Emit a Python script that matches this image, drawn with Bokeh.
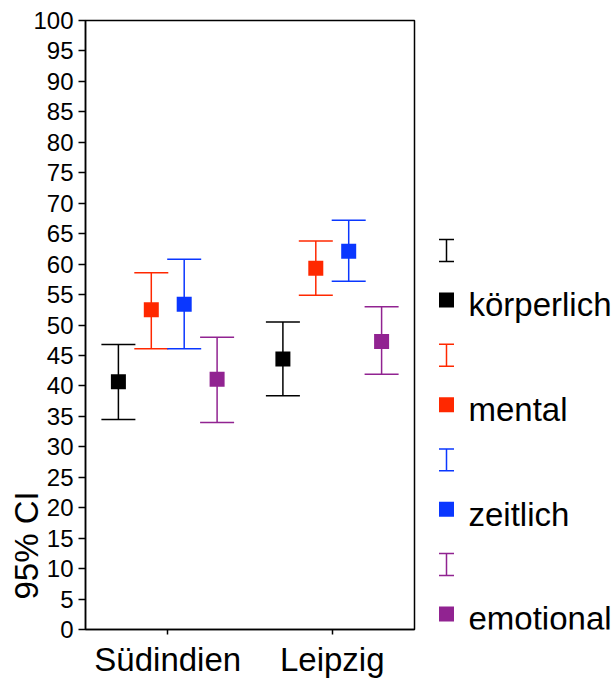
import math

from bokeh.core.properties import value
from bokeh.embed import file_html
from bokeh.layouts import row
from bokeh.models import (ColumnDataSource, FactorRange, FixedTicker, Range1d,
                          TeeHead, Whisker)
from bokeh.plotting import figure
from bokeh.resources import INLINE
from bokeh.transform import dodge

# ---- data -----------------------------------------------------------------
sites = ["Südindien", "Leipzig"]
groups = ["körperlich", "mental", "zeitlich", "emotional"]
colors = ["#000000", "#FF2800", "#0A37FF", "#912391"]

mean_koerperlich = [40.7, 44.4]
lower_koerperlich = [34.5, 38.4]
upper_koerperlich = [46.8, 50.5]

mean_mental = [52.5, 59.3]
lower_mental = [46.1, 54.9]
upper_mental = [58.6, 63.8]

mean_zeitlich = [53.4, 62.1]
lower_zeitlich = [46.1, 57.2]
upper_zeitlich = [60.8, 67.2]

mean_emotional = [41.1, 47.3]
lower_emotional = [34.0, 41.9]
upper_emotional = [48.0, 53.0]

y_ticks = [0, 5, 10, 15, 20, 25, 30, 35, 40, 45, 50,
           55, 60, 65, 70, 75, 80, 85, 90, 95, 100]
y_title = "95% CI"

series = [
    (mean_koerperlich, lower_koerperlich, upper_koerperlich),
    (mean_mental, lower_mental, upper_mental),
    (mean_zeitlich, lower_zeitlich, upper_zeitlich),
    (mean_emotional, lower_emotional, upper_emotional),
]

FONT = "Liberation Sans"
offsets = [-0.3, -0.1, 0.1, 0.3]

# Plots in a row share their top/bottom borders, so every panel below
# gets the same 20px / 50px frame insets as the main chart.
TOP, BOTTOM = 20, 50

# ---- vertical axis title (narrow strip on the far left) -------------------
# y is measured in page pixels from the top of the canvas
tf = figure(
    width=50, height=680,
    x_range=Range1d(0, 50), y_range=Range1d(680 - BOTTOM, TOP),
    min_border_left=0, min_border_right=0,
    min_border_top=TOP, min_border_bottom=BOTTOM,
    x_axis_type=None, y_axis_type=None,
    toolbar_location=None, tools="", output_backend="svg",
)
tf.outline_line_color = None
tf.background_fill_color = None
tf.border_fill_color = None
tf.grid.visible = False
tf.text(x=[26], y=[600], text=[y_title], angle=math.pi / 2,
        text_font=value(FONT), text_font_size="33px", text_color="black",
        text_align="left", text_baseline="alphabetic")

# ---- main chart -----------------------------------------------------------
p = figure(
    x_range=FactorRange(*sites, range_padding=0),
    y_range=Range1d(0, 100),
    width=388, height=680,
    min_border_left=55, min_border_right=4,
    min_border_top=TOP, min_border_bottom=BOTTOM,
    toolbar_location=None, tools="", output_backend="svg",
)
p.margin = (0, 0, 0, -20)          # tuck the plot under the title strip
p.xgrid.visible = False
p.ygrid.visible = False
p.outline_line_color = "black"
p.outline_line_width = 1.5
p.outline_line_alpha = 1.0
p.background_fill_color = "white"
p.border_fill_color = None

for (mean, lower, upper), color, off in zip(series, colors, offsets):
    src = ColumnDataSource(dict(site=sites, mean=mean, lower=lower, upper=upper))
    xpos = dodge("site", off, range=p.x_range)
    whisk = Whisker(
        source=src, base=xpos, lower="lower", upper="upper",
        line_color=color, line_width=1.5, level="underlay",
        upper_head=TeeHead(size=34, line_color=color, line_width=1.5),
        lower_head=TeeHead(size=34, line_color=color, line_width=1.5),
    )
    p.add_layout(whisk)
    p.scatter(x=xpos, y="mean", source=src, marker="square", size=15,
              fill_color=color, line_color=None)

# y axis
p.yaxis.ticker = FixedTicker(ticks=y_ticks)
p.yaxis.minor_tick_line_color = None
p.yaxis.major_tick_in = 0
p.yaxis.major_tick_out = 7
p.yaxis.major_tick_line_width = 1.5
p.yaxis.axis_line_width = 1.5
p.yaxis.major_label_standoff = 5
p.yaxis.major_label_text_font = FONT
p.yaxis.major_label_text_font_size = "24px"
p.yaxis.major_label_text_color = "black"

# x axis
p.xaxis.major_tick_in = 0
p.xaxis.major_tick_out = 5
p.xaxis.major_tick_line_width = 1.5
p.xaxis.axis_line_width = 1.5
p.xaxis.major_label_standoff = 6
p.xaxis.major_label_text_font = FONT
p.xaxis.major_label_text_font_size = "33px"
p.xaxis.major_label_text_color = "black"

# ---- legend panel ---------------------------------------------------------
# each group takes one unit: an error-bar symbol on top, the marker below it
leg = figure(
    width=198, height=680,
    x_range=Range1d(0, 198), y_range=Range1d(3.621, -2.199),
    min_border_left=0, min_border_right=0,
    min_border_top=TOP, min_border_bottom=BOTTOM,
    x_axis_type=None, y_axis_type=None,
    toolbar_location=None, tools="", output_backend="svg",
)
leg.outline_line_color = None
leg.border_fill_color = None
leg.grid.visible = False

sym_x = 28
text_x = 50
for i, (name, color) in enumerate(zip(groups, colors)):
    bar_src = ColumnDataSource(dict(x=[sym_x], lo=[i + 0.105], hi=[i - 0.105]))
    leg.add_layout(Whisker(
        source=bar_src, base="x", lower="lo", upper="hi",
        line_color=color, line_width=1.5,
        upper_head=TeeHead(size=15, line_color=color, line_width=1.5),
        lower_head=TeeHead(size=15, line_color=color, line_width=1.5),
    ))
    item_src = ColumnDataSource(dict(x=[sym_x], tx=[text_x], y=[i + 0.472], label=[name]))
    leg.scatter(x="x", y="y", source=item_src, marker="square", size=15,
                fill_color=color, line_color=None)
    leg.text(x="tx", y="y", text="label", source=item_src,
             text_font=value(FONT), text_font_size="33px", text_color="black",
             text_align="left", text_baseline="alphabetic", y_offset=5)

layout = row(tf, p, leg)
open("out.html", "w").write(file_html(layout, INLINE))
